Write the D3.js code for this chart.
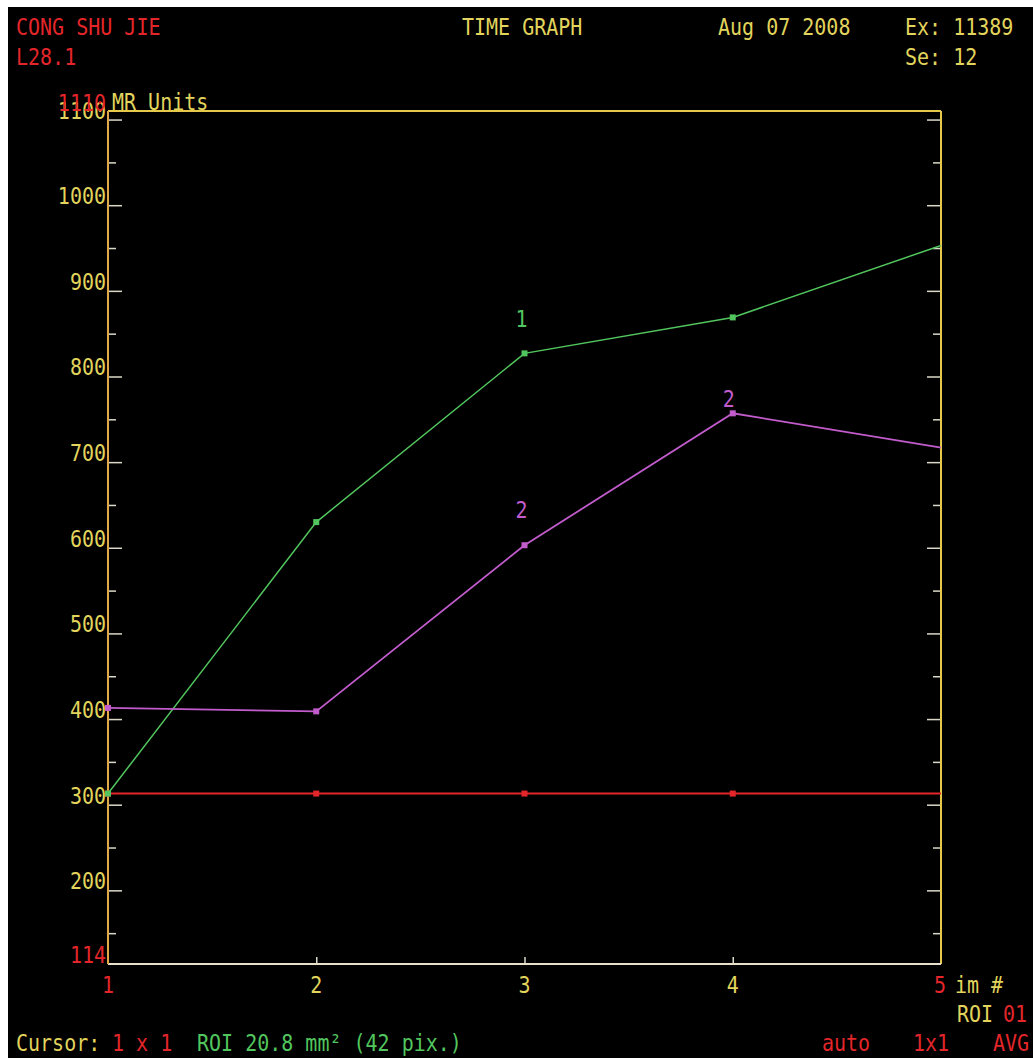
<!DOCTYPE html>
<html>
  <style>
    body { margin: 0; background: #ffffff; }
    text { font-family: "DejaVu Sans Mono", monospace; font-size: 20px; }
  </style>
  <body onload="main()">
    <div id="chart"></div>
  </body>
  <script src="https://d3js.org/d3.v7.min.js"></script>
  <script>
    // image numbers on the x axis
    const IMAGES = [1, 2, 3, 4, 5];
    // MR signal per ROI
    const ROI1 = [313, 630, 827, 869, 953];
    const ROI2 = [413, 409, 603, 757, 717];
    const ROI_BASE = [313, 313, 313, 313, 313];
    // y axis ticks
    const Y_MAJOR = [200, 300, 400, 500, 600, 700, 800, 900, 1000, 1100];
    const Y_MINOR = [150, 250, 350, 450, 550, 650, 750, 850, 950, 1050];
    const Y_MIN = 114;
    const Y_MAX = 1110;

    const YELLOW = "#e2d45c";
    const RED = "#e4262a";
    const GREEN = "#52c65e";
    const PURPLE = "#c25ccc";
    const TICK = "#dcd8c8";

    function main() {
      var W = 1033, H = 1058;
      var LEFT = 108, RIGHT = 941, TOP = 111, BOTTOM = 964;

      var svg = d3.select("#chart").append("svg")
        .attr("width", W).attr("height", H);

      // screen background
      svg.append("rect").attr("x", 8).attr("y", 7)
        .attr("width", W - 8).attr("height", H - 7).attr("fill", "#000");

      var x = d3.scaleLinear().domain([1, 5]).range([LEFT, RIGHT]);
      var y = d3.scaleLinear().domain([Y_MIN, Y_MAX]).range([BOTTOM, TOP]);

      // text helper, the console font is tall and narrow
      function label(px, py, str, color, anchor) {
        return svg.append("text")
          .attr("transform", "translate(" + px + "," + py + ") scale(1,1.15)")
          .attr("fill", color)
          .attr("text-anchor", anchor || "start")
          .text(str);
      }

      // ticks, left and right sides pointing inward
      function ticks(axis, vals, size, tx) {
        var g = svg.append("g").attr("transform", "translate(" + tx + ",0)")
          .call(axis(y).tickValues(vals).tickSize(size).tickFormat(""));
        g.select(".domain").remove();
        g.selectAll("line").attr("stroke", TICK).attr("stroke-width", 1.5);
      }
      ticks(d3.axisRight, Y_MAJOR, 14, LEFT);
      ticks(d3.axisRight, Y_MINOR, 8, LEFT);
      ticks(d3.axisLeft, Y_MAJOR, 14, RIGHT);
      ticks(d3.axisLeft, Y_MINOR, 8, RIGHT);

      var xg = svg.append("g").attr("transform", "translate(0," + BOTTOM + ")")
        .call(d3.axisTop(x).tickValues(IMAGES.slice(1, 4)).tickSize(7).tickFormat(""));
      xg.select(".domain").remove();
      xg.selectAll("line").attr("stroke", TICK).attr("stroke-width", 1.5);

      // frame
      svg.append("line").attr("x1", LEFT).attr("x2", RIGHT).attr("y1", TOP).attr("y2", TOP)
        .attr("stroke", "#e6c84a").attr("stroke-width", 2);
      svg.append("line").attr("x1", RIGHT).attr("x2", RIGHT).attr("y1", TOP).attr("y2", BOTTOM)
        .attr("stroke", "#e6c84a").attr("stroke-width", 2);
      svg.append("line").attr("x1", LEFT).attr("x2", RIGHT).attr("y1", BOTTOM).attr("y2", BOTTOM)
        .attr("stroke", "#e8e0c8").attr("stroke-width", 2);
      svg.append("line").attr("x1", LEFT).attr("x2", LEFT).attr("y1", TOP).attr("y2", BOTTOM)
        .attr("stroke", "#e0a848").attr("stroke-width", 2);

      // y labels
      Y_MAJOR.forEach(function (v) {
        label(LEFT - 2, y(v) - 1, v, YELLOW, "end");
      });
      label(LEFT - 2, BOTTOM - 1, Y_MIN, RED, "end");
      label(LEFT - 2, TOP, Y_MAX, RED, "end");
      label(LEFT + 4, TOP - 1, "MR Units", YELLOW);

      // x labels
      IMAGES.forEach(function (v, i) {
        var c = (i === 0 || i === IMAGES.length - 1) ? RED : YELLOW;
        label(x(v) - (i === IMAGES.length - 1 ? 1 : 0), 993, v, c, "middle");
      });
      label(955, 993, "im #", YELLOW);

      // series
      var line = d3.line()
        .x(function (d, i) { return x(IMAGES[i]); })
        .y(function (d) { return y(d); });

      function series(vals, color, width, marks) {
        svg.append("path").datum(vals).attr("d", line)
          .attr("fill", "none").attr("stroke", color).attr("stroke-width", width);
        svg.selectAll(null).data(vals.slice(0, marks)).enter().append("rect")
          .attr("x", function (d, i) { return x(IMAGES[i]) - 3; })
          .attr("y", function (d) { return y(d) - 3; })
          .attr("width", 6).attr("height", 6)
          .attr("fill", color);
      }
      series(ROI_BASE, RED, 2, 4);
      series(ROI1, GREEN, 1.5, 4);
      series(ROI2, PURPLE, 1.8, 4);

      // ROI numbers
      label(x(3) - 3, y(ROI1[2]) - 26, "1", GREEN, "middle");
      label(x(3) - 3, y(ROI2[2]) - 27, "2", PURPLE, "middle");
      label(x(4) - 4, y(ROI2[3]) - 6, "2", PURPLE, "middle");

      // header
      label(16, 35, "CONG SHU JIE", RED);
      label(16, 65, "L28.1", RED);
      label(462, 35, "TIME GRAPH", YELLOW);
      label(718, 35, "Aug 07 2008", YELLOW);
      label(905, 35, "Ex: 11389", YELLOW);
      label(905, 65, "Se: 12", YELLOW);

      // footer
      label(957, 1022, "ROI", YELLOW);
      label(1003, 1022, "01", RED);
      label(16, 1051, "Cursor:", YELLOW);
      label(112, 1051, "1 x 1", RED);
      label(197, 1051, "ROI 20.8 mm\u00b2 (42 pix.)", GREEN);
      label(822, 1051, "auto", RED);
      label(913, 1051, "1x1", RED);
      label(993, 1051, "AVG", RED);
    }
  </script>
</html>
